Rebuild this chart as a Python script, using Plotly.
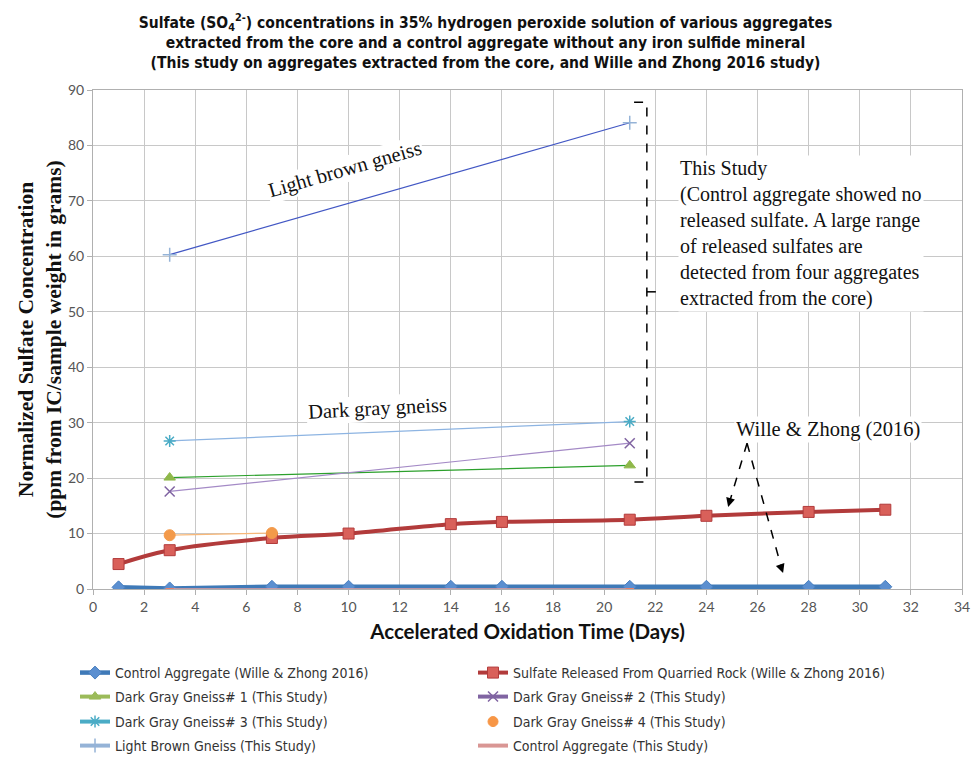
import plotly.graph_objects as go

# ---- data ----
wz_days = [1, 3, 7, 10, 14, 16, 21, 24, 28, 31]
wz_control = [0.3, 0.1, 0.4, 0.4, 0.4, 0.4, 0.4, 0.4, 0.4, 0.4]
wz_quarried = [4.5, 7.0, 9.2, 10.0, 11.7, 12.1, 12.5, 13.2, 13.9, 14.3]

study_days = [3, 21]
dgg1 = [20.1, 22.3]
dgg2 = [17.6, 26.3]
dgg3 = [26.7, 30.2]
dgg4_days = [3, 7]
dgg4 = [9.7, 10.1]
light_brown = [60.3, 84.1]
control_study = [0.0, 0.0]

x_ticks = list(range(0, 35, 2))
y_ticks = list(range(0, 91, 10))

fig = go.Figure()

def add(name, x, y, lcolor, lwidth, msym, mcolor, msize, mline, legend, shape="linear"):
    fig.add_trace(go.Scatter(x=x, y=y, name=name, mode="lines+markers", legend=legend,
                             line=dict(color=lcolor, width=lwidth, shape=shape),
                             marker=dict(symbol=msym, color=mcolor, size=msize, line=mline)))

def add_plot_only(name, x, y, lcolor, lwidth, msym, mcolor, msize, mline):
    fig.add_trace(go.Scatter(x=x, y=y, name=name, mode="lines+markers", showlegend=False,
                             line=dict(color=lcolor, width=lwidth),
                             marker=dict(symbol=msym, color=mcolor, size=msize, line=mline)))

def legend_key(name, legend, mode, lcolor, msym, mcolor, mline):
    # legend-only key (no data): Excel draws legend swatches in different colours
    fig.add_trace(go.Scatter(x=[None], y=[None], name=name, mode=mode, legend=legend,
                             line=dict(color=lcolor, width=4),
                             marker=dict(symbol=msym, color=mcolor, size=10, line=mline)))

add("Control Aggregate (Wille & Zhong 2016)", wz_days, wz_control, "#3f7ab8", 4.5,
    "diamond", "#5b8fd0", 10, dict(color="#4a80c0", width=1), "legend")
add("Sulfate Released From Quarried Rock (Wille & Zhong 2016)", wz_days, wz_quarried, "#b23b3b", 4,
    "square", "#d9605a", 11, dict(color="#b23b3b", width=1), "legend2", shape="spline")

add_plot_only("Dark Gray Gneiss# 1 (This Study)", study_days, dgg1, "#2ca02c", 1.2,
              "triangle-up", "#8fb84a", 10, dict(color="#8fb84a", width=1))
add_plot_only("Dark Gray Gneiss# 2 (This Study)", study_days, dgg2, "#a48ac6", 1.2,
              "x-thin", "#8064a2", 10, dict(color="#8064a2", width=1.5))
add_plot_only("Dark Gray Gneiss# 3 (This Study)", study_days, dgg3, "#8db4e2", 1.2,
              "asterisk", "#4bacc6", 10, dict(color="#4bacc6", width=1.5))
add_plot_only("Dark Gray Gneiss# 4 (This Study)", dgg4_days, dgg4, "#f8b878", 1.2,
              "circle", "#f39a4a", 11, dict(color="#f39a4a", width=1))
add_plot_only("Light Brown Gneiss (This Study)", study_days, light_brown, "#4257c4", 1.2,
              "cross-thin", "#95b3d7", 10, dict(color="#95b3d7", width=1.5))
add_plot_only("Control Aggregate (This Study)", study_days, control_study, "#e6a0a0", 1.5,
              "line-ew", "#e8806a", 6, dict(color="#e8806a", width=2))

legend_key("Dark Gray Gneiss# 1 (This Study)", "legend3", "lines+markers", "#9bbb59",
           "triangle-up", "#9bbb59", dict(color="#9bbb59", width=1))
legend_key("Dark Gray Gneiss# 2 (This Study)", "legend4", "lines+markers", "#8064a2",
           "x-thin", "#8064a2", dict(color="#8064a2", width=1.5))
legend_key("Dark Gray Gneiss# 3 (This Study)", "legend5", "lines+markers", "#4bacc6",
           "asterisk", "#4bacc6", dict(color="#4bacc6", width=1.5))
legend_key("Dark Gray Gneiss# 4 (This Study)", "legend6", "markers", "#f79646",
           "circle", "#f79646", dict(color="#f79646", width=1))
legend_key("Light Brown Gneiss (This Study)", "legend7", "lines+markers", "#95b3d7",
           "cross-thin", "#95b3d7", dict(color="#95b3d7", width=1.5))
legend_key("Control Aggregate (This Study)", "legend8", "lines", "#d99694",
           "circle", "#d99694", dict(color="#d99694", width=1))

serif = "Liberation Serif, Times New Roman, serif"
sans = "Lato, Open Sans, sans-serif"
narrow = "Liberation Sans Narrow, DejaVu Sans Condensed, Roboto Condensed, Roboto, sans-serif"

afont = dict(family=serif, size=20.5, color="#111")
annotations = [
    dict(x=9.86, y=75.6, text="Light brown gneiss", showarrow=False, textangle=-16,
         font=afont, bgcolor="white"),
    dict(x=11.15, y=32.6, text="Dark gray gneiss", showarrow=False, textangle=-3,
         font=afont, bgcolor="white"),
    dict(x=22.9, y=78.3, xanchor="left", yanchor="top", align="left", showarrow=False,
         text="This Study<br>(Control aggregate showed no<br>released sulfate. A large range<br>of released sulfates are<br>detected from four aggregates<br>extracted from the core)",
         font=dict(family=serif, size=20, color="#111"), bgcolor="white"),
    dict(x=28.75, y=28.7, text="Wille & Zhong (2016)", showarrow=False,
         font=afont, bgcolor="white"),
    dict(x=24.85, y=14.8, ax=24.92, ay=15.95, axref="x", ayref="y", text="",
         showarrow=True, arrowhead=2, arrowsize=1.2, arrowwidth=1.5, arrowcolor="black"),
    dict(x=27.0, y=2.9, ax=26.91, ay=4.1, axref="x", ayref="y", text="",
         showarrow=True, arrowhead=2, arrowsize=1.2, arrowwidth=1.5, arrowcolor="black"),
]

shapes = [
    dict(type="path", path="M 21.17,87.8 L 21.67,87.8 L 21.67,19.3 L 21.17,19.3",
         line=dict(color="black", width=1.5, dash="dash")),
    dict(type="line", x0=21.67, y0=53.6, x1=22.2, y1=53.6,
         line=dict(color="black", width=1.5, dash="dash")),
    dict(type="line", x0=25.59, y0=26.3, x1=24.9, y1=15.6,
         line=dict(color="black", width=1.5, dash="dash")),
    dict(type="line", x0=25.59, y0=26.3, x1=26.95, y1=3.6,
         line=dict(color="black", width=1.5, dash="dash")),
]

def legend_item(xpos, ypos):
    return dict(orientation="h", x=xpos, xanchor="left", y=ypos, yanchor="middle",
                bgcolor="rgba(0,0,0,0)", visible=True,
                font=dict(family=narrow, size=14, color="#333"))

col1, col2 = -0.0207, 0.4373
rows = [-0.1683, -0.2164, -0.2665, -0.3146]

fig.update_layout(
    width=971, height=760, showlegend=True,
    margin=dict(l=93, r=9, t=90, b=171, autoexpand=False),
    paper_bgcolor="white", plot_bgcolor="white",
    title=dict(
        text="<b>Sulfate (SO<sub>4</sub><sup>2-</sup>) concentrations in 35% hydrogen peroxide solution of various aggregates<br>extracted from the core and a control aggregate without any iron sulfide mineral<br>(This study on aggregates extracted from the core, and Wille and Zhong 2016 study)</b>",
        x=0.5, xanchor="center", xref="container", y=1 - 28 / 760, yanchor="middle",
        font=dict(family=narrow, size=15.5, color="#111")),
    xaxis=dict(range=[0, 34], tickvals=x_ticks, ticktext=[str(v) for v in x_ticks],
               showgrid=True, gridcolor="#c8c8c8", gridwidth=1, automargin=False,
               showline=True, linecolor="#b0b0b0", mirror=True,
               ticks="outside", ticklen=5, tickcolor="#b0b0b0",
               tickfont=dict(family=sans, size=14, color="#555"), zeroline=False,
               title=dict(text="<b>Accelerated Oxidation Time (Days)</b>", standoff=10,
                          font=dict(family=sans, size=20.5, color="#111"))),
    yaxis=dict(range=[0, 90], tickvals=y_ticks, ticktext=[str(v) for v in y_ticks],
               showgrid=True, gridcolor="#c8c8c8", gridwidth=1, automargin=False,
               showline=True, linecolor="#b0b0b0", mirror=True,
               ticks="outside", ticklen=5, tickcolor="#b0b0b0",
               tickfont=dict(family=sans, size=14, color="#555"), zeroline=False,
               title=dict(text="<b>Normalized Sulfate Concentration<br>(ppm from IC/sample weight in grams)</b>",
                          standoff=0, font=dict(family=serif, size=21.5, color="#111"))),
    legend=legend_item(col1, rows[0]),
    legend2=legend_item(col2, rows[0]),
    legend3=legend_item(col1, rows[1]),
    legend4=legend_item(col2, rows[1]),
    legend5=legend_item(col1, rows[2]),
    legend6=legend_item(col2, rows[2]),
    legend7=legend_item(col1, rows[3]),
    legend8=legend_item(col2, rows[3]),
    annotations=annotations, shapes=shapes,
)

fig.write_html("out.html", config={"displayModeBar": False},
               post_script="document.body.style.margin='0';document.body.style.overflow='hidden';")
